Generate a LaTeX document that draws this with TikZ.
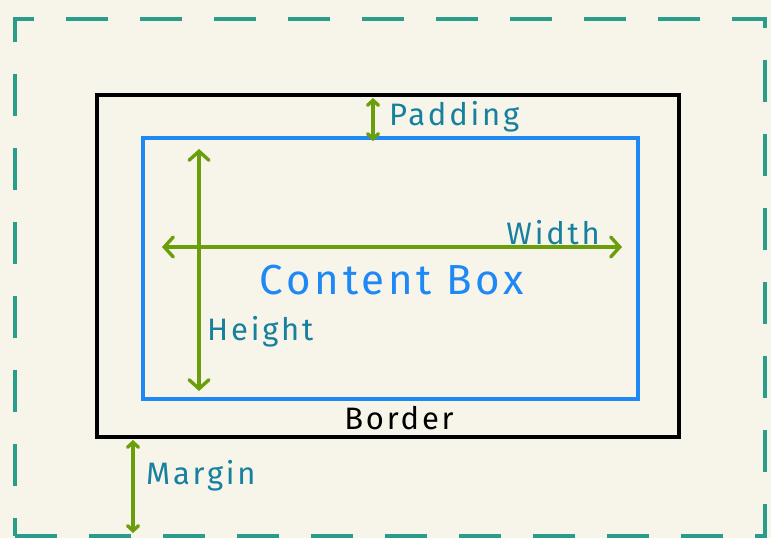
\documentclass[tikz,border=0pt]{standalone}
\usepackage{fontspec}
\setmainfont{Fira Sans}[LetterSpace=9]
\usetikzlibrary{arrows.meta}
\definecolor{paper}{HTML}{F7F5EA}
\definecolor{margincol}{HTML}{2A9D8A}
\definecolor{contentcol}{HTML}{1E88F5}
\definecolor{arrowcol}{HTML}{6B9E0B}
\definecolor{textcol}{HTML}{17809E}
\tikzset{
  box/.style = {rectangle, inner sep=0pt, outer sep=0pt, line width=3.4pt},
  marginbox/.style = {box, draw=margincol, dash pattern=on 42pt off 32pt},
  borderbox/.style = {box, draw=black},
  contentbox/.style = {box, draw=contentcol},
  sizearrow/.style = {draw=arrowcol, line width=3.4pt, line cap=round,
    {Straight Barb[length=9pt, width=20pt, line cap=round]}-{Straight Barb[length=9pt, width=20pt, line cap=round]}},
  smallarrow/.style = {draw=arrowcol, line width=3.4pt, line cap=round,
    {Straight Barb[length=5pt, width=11pt, line cap=round]}-{Straight Barb[length=5pt, width=11pt, line cap=round]}},
  boxtext/.style = {inner sep=0pt, text=textcol, font=\fontsize{31}{34}\selectfont},
}

\begin{document}
\begin{tikzpicture}[x=1pt, y=-1pt]
\useasboundingbox[fill=paper] (0,0) rectangle (771,538);
% the three boxes
\node [marginbox, minimum width=750, minimum height=517] (margin) at (390,277.5) {};
\node [borderbox, minimum width=582, minimum height=342] (border) at (388,266) {};
\node [contentbox, minimum width=495, minimum height=261] (content) at (390.5,268.5) {};
% end points of the arrows
\coordinate (padX) at (373,0);
\coordinate (marX) at (133,0);
\coordinate (hTop) at (199,149);
\coordinate (hBot) at (199,391);
\coordinate (wLeft) at (162,247);
\coordinate (wRight) at (622,247);
\draw [smallarrow] (border.north -| padX) ++(0,3) -- ([yshift=-3pt]content.north -| padX);
\draw [sizearrow] (hTop) -- (hBot);
\draw [sizearrow] (wLeft) -- (wRight);
\draw [smallarrow] (border.south -| marX) ++(0,3) -- ([yshift=3pt]margin.south -| marX);
% texts
\node [boxtext, anchor=west] (padding) at (389,117) {Padding};
\node [boxtext, anchor=east] (width) at (600,233) {Width};
\node [boxtext, anchor=west] (height) at (207,332) {Height};
\node [boxtext, anchor=west] (marginlbl) at (146,476) {Margin};
\node [boxtext, text=black] (borderlbl) at (399,418) {Border};
\node [boxtext, text=contentcol, font=\fontsize{42}{46}\selectfont] (contentlbl) at (392,280) {Content Box};
\end{tikzpicture}
\end{document}
